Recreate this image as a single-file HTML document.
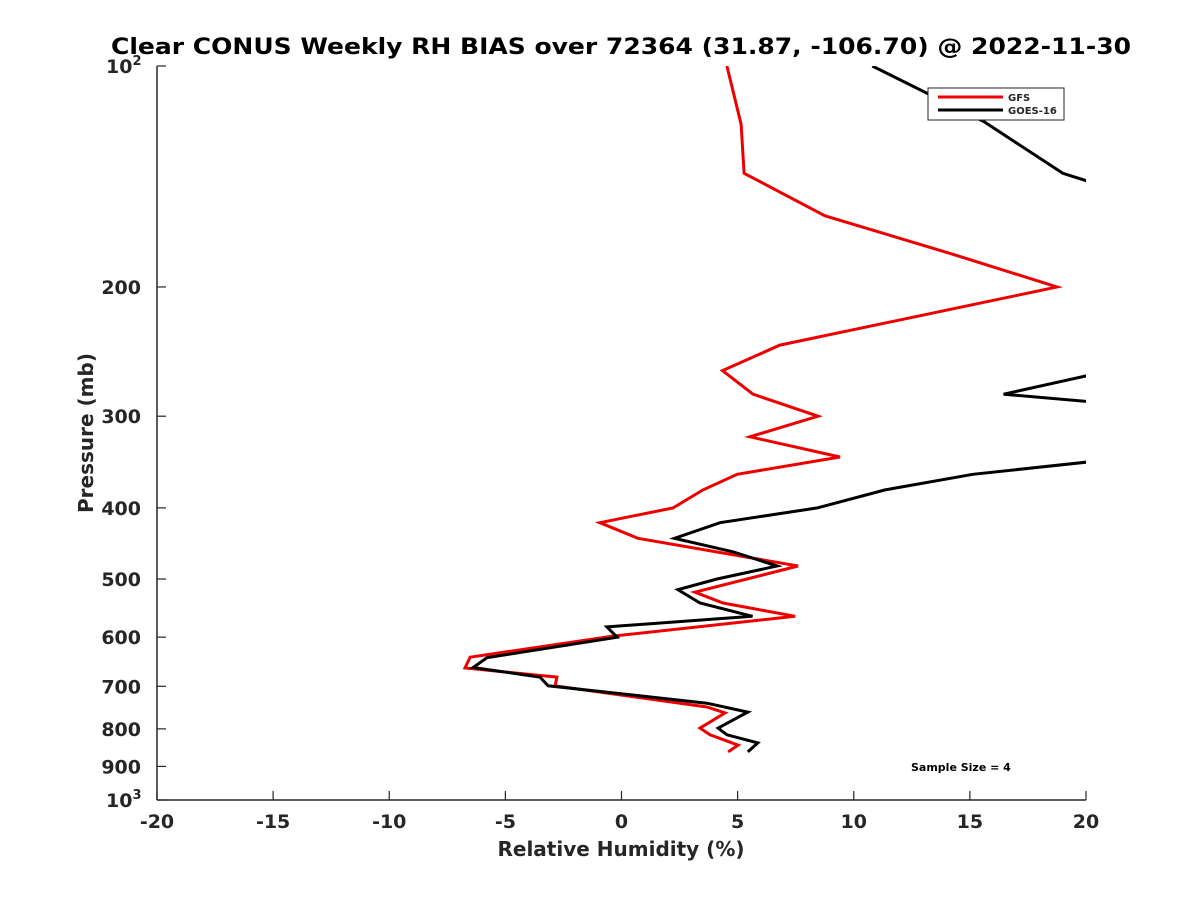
<!DOCTYPE html>
<html><head><meta charset="utf-8"><style>
body{margin:0;background:#fff;font-family:"DejaVu Sans","Liberation Sans",sans-serif;}
svg text{font-family:"DejaVu Sans","Liberation Sans",sans-serif;font-weight:bold;fill:#262626;}
</style></head><body>
<svg width="1200" height="900" viewBox="0 0 1200 900">
<rect width="1200" height="900" fill="#fff"/>
<text x="621" y="54" font-size="22" text-anchor="middle" fill="#000" style="fill:#000" textLength="1020" lengthAdjust="spacingAndGlyphs">Clear CONUS Weekly RH BIAS over 72364 (31.87, -106.70) @ 2022-11-30</text>
<defs><clipPath id="plotclip"><rect x="157" y="66" width="929" height="734"/></clipPath></defs>
<g id="axes"></g>
<g id="series" clip-path="url(#plotclip)"></g>
<text x="621" y="856" font-size="20" text-anchor="middle">Relative Humidity (%)</text>
<text transform="translate(93,433) rotate(-90)" font-size="20" text-anchor="middle">Pressure (mb)</text>
<g>
<rect x="928" y="88" width="136" height="32" fill="#fff" stroke="#262626" stroke-width="1"/>
<line x1="938" y1="97" x2="1003" y2="97" stroke="#e00" stroke-width="3"/>
<text x="1008" y="101" font-size="10">GFS</text>
<line x1="938" y1="110" x2="1003" y2="110" stroke="#000" stroke-width="3"/>
<text x="1008" y="114" font-size="10">GOES-16</text>
</g>
<text x="911" y="771" font-size="11" fill="#000" style="fill:#000">Sample Size = 4</text>
</svg>
<script>
const xTicks=[-20,-15,-10,-5,0,5,10,15,20];
const yTicks=[200,300,400,500,600,700,800,900];
const gfsP=[100,120,140,160,180,200,240,260,280,300,320,341,360,378,400,419,440,480,521,539,562,598,639,661,680,699,747,761,798,815,842,860];
const gfsV=[4.54,5.15,5.28,8.76,14.15,18.75,6.82,4.35,5.66,8.46,5.53,9.41,4.98,3.51,2.22,-0.93,0.71,7.60,3.16,4.37,7.47,-0.37,-6.52,-6.74,-2.78,-2.86,3.68,4.46,3.38,3.81,5.02,4.59];
const goesP=[100,119,140,150,200,256,280,290,340,346,360,378,400,419,440,459,480,500,517,539,562,581,600,640,660,680,699,738,759,798,815,836,860];
const goesV=[10.8,15.6,19.0,22,30,22,16.45,22,22,20.2,15.13,11.35,8.43,4.24,2.28,4.80,6.70,4.11,2.43,3.38,5.64,-0.63,-0.19,-5.79,-6.39,-3.51,-3.16,3.68,5.44,4.16,4.54,5.87,5.44];
const X0=157,X1=1086,Y0=66,Y1=800;
function xs(v){return X0+(v+20)/40*(X1-X0);}
function ys(p){return Y0+Math.log10(p/100)*(Y1-Y0);}
const NS='http://www.w3.org/2000/svg';
const ax=document.getElementById('axes');
function mk(t,a,parent){const e=document.createElementNS(NS,t);for(const k in a)e.setAttribute(k,a[k]);parent.appendChild(e);return e;}
let l=mk('line',{x1:X0,y1:Y1,x2:X1,y2:Y1,stroke:'#262626','stroke-width':1.5},ax);


l=mk('line',{x1:X0,y1:Y0,x2:X0,y2:Y1,stroke:'#262626','stroke-width':1.5},ax);


xTicks.forEach(v=>{const x=xs(v);
 mk('line',{x1:x,y1:Y1,x2:x,y2:Y1-9,stroke:'#262626','stroke-width':1.2},ax);
 const t=mk('text',{x:x,y:828,'font-size':19,'text-anchor':'middle'},ax);t.textContent=v;
 
 });
yTicks.concat([100,1000]).forEach(p=>{const y=ys(p);
 mk('line',{x1:X0,y1:y,x2:X0+9,y2:y,stroke:'#262626','stroke-width':1.2},ax);});
yTicks.forEach(p=>{const t=mk('text',{x:141,y:ys(p)+7,'font-size':19,'text-anchor':'end'},ax);t.textContent=p;
 
 });
[[100,'2'],[1000,'3']].forEach(([p,e])=>{const t=mk('text',{x:106,y:ys(p)+7,'font-size':19},ax);t.innerHTML='10<tspan dy="-8" font-size="13">'+e+'</tspan>';
 
 });
const sg=document.getElementById('series');
function draw(P,V,c,name){const pts=P.map((p,i)=>xs(V[i]).toFixed(1)+','+ys(p).toFixed(1)).join(' ');
 const e=mk('polyline',{points:pts,fill:'none',stroke:c,'stroke-width':3,'stroke-linejoin':'miter'},sg);
 
 }
draw(gfsP,gfsV,'#e00','gfs-line');
draw(goesP,goesV,'#000','goes16-line');
</script>
</body></html>
